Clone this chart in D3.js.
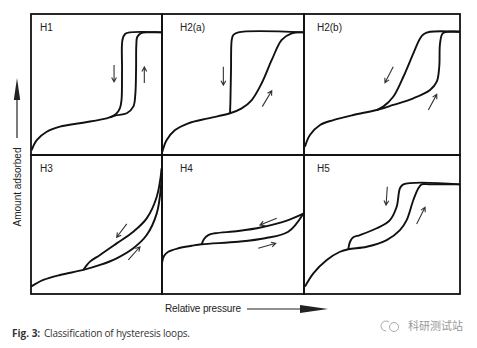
<!DOCTYPE html>
<html>
<head>
<meta charset="utf-8">
<script src="https://cdnjs.cloudflare.com/ajax/libs/d3/7.8.5/d3.min.js"></script>
<style>
body { margin: 0; background: #fff; }
svg { display: block; font-family: "Liberation Sans", Arial, sans-serif; }
</style>
</head>
<body>
<div id="chart"></div>
<script>
// Panel titles in reading order
var panelNames = ['H1', 'H2(a)', 'H2(b)', 'H3', 'H4', 'H5'];

// Branches as [relative pressure, amount adsorbed], both 0..1 inside a panel
var h1Ads = [[0.005,0.035],[0.044,0.106],[0.12,0.165],[0.221,0.201],[0.397,0.229],[0.578,0.26],[0.641,0.279],
             [0.731,0.296],[0.781,0.343],[0.796,0.426],[0.802,0.603],[0.804,0.78],[0.811,0.837],[0.84,0.865],[0.908,0.87],[1,0.87]];
var h1Des = [[1,0.87],[0.756,0.87],[0.718,0.858],[0.698,0.816],[0.695,0.603],[0.691,0.39],[0.679,0.333],[0.649,0.291],[0.603,0.267]];

var h2aAds = [[0.002,0.023],[0.033,0.106],[0.092,0.177],[0.185,0.225],[0.326,0.26],[0.479,0.296],[0.561,0.331],
              [0.632,0.39],[0.702,0.509],[0.773,0.674],[0.843,0.816],[0.913,0.863],[1,0.87]];
var h2aDes = [[1,0.87],[0.537,0.87],[0.502,0.851],[0.491,0.816],[0.486,0.603],[0.482,0.39],[0.479,0.296]];

var h2bAds = [[0.006,0.059],[0.038,0.142],[0.103,0.213],[0.188,0.248],[0.316,0.284],[0.466,0.319],[0.572,0.355],
              [0.701,0.402],[0.808,0.461],[0.851,0.52],[0.867,0.626],[0.872,0.792],[0.889,0.863],[0.925,0.874],[1,0.874]];
var h2bDes = [[1,0.874],[0.808,0.874],[0.769,0.858],[0.744,0.827],[0.701,0.721],[0.637,0.555],[0.572,0.413],[0.508,0.343],[0.466,0.319]];

var h3Ads = [[0,0.053],[0.094,0.101],[0.221,0.137],[0.399,0.173],[0.527,0.209],[0.654,0.257],[0.781,0.329],
             [0.883,0.424],[0.96,0.58],[0.992,0.772],[0.998,0.904]];
var h3Des = [[0.998,0.904],[0.96,0.7],[0.883,0.544],[0.781,0.448],[0.654,0.364],[0.527,0.281],[0.45,0.233],[0.42,0.201],[0.399,0.173]];

var h4Ads = [[0.002,0.232],[0.014,0.273],[0.044,0.304],[0.115,0.329],[0.209,0.347],[0.28,0.358],[0.537,0.376],
             [0.725,0.401],[0.889,0.448],[0.995,0.578]];
var h4Des = [[0.995,0.578],[0.889,0.532],[0.702,0.48],[0.537,0.453],[0.373,0.437],[0.326,0.424],[0.296,0.396],[0.28,0.358]];

var h5Ads = [[0.006,0.053],[0.06,0.149],[0.146,0.245],[0.231,0.304],[0.284,0.322],[0.402,0.34],[0.53,0.388],
             [0.615,0.46],[0.658,0.532],[0.701,0.676],[0.733,0.76],[0.754,0.789],[0.808,0.789],[1,0.789]];
var h5Des = [[1,0.789],[0.637,0.789],[0.615,0.76],[0.594,0.628],[0.551,0.532],[0.466,0.473],[0.359,0.424],
             [0.316,0.408],[0.295,0.376],[0.284,0.322]];

// Direction arrows: [from, to] in the same units
var h1Arrows = [[[0.634,0.638],[0.634,0.518]], [[0.865,0.511],[0.865,0.624]]];
var h2aArrows = [[[0.432,0.626],[0.432,0.496]], [[0.706,0.343],[0.773,0.456]]];
var h2bArrows = [[[0.572,0.626],[0.519,0.513]], [[0.797,0.319],[0.851,0.43]]];
var h3Arrows = [[[0.731,0.504],[0.654,0.408]], [[0.743,0.245],[0.832,0.34]]];
var h4Arrows = [[[0.808,0.545],[0.69,0.496]], [[0.678,0.329],[0.801,0.365]]];
var h5Arrows = [[[0.534,0.772],[0.526,0.64]], [[0.722,0.504],[0.776,0.624]]];

var branches = [[h1Ads, h1Des], [h2aAds, h2aDes], [h2bAds, h2bDes], [h3Ads, h3Des], [h4Ads, h4Des], [h5Ads, h5Des]];
var arrows = [h1Arrows, h2aArrows, h2bArrows, h3Arrows, h4Arrows, h5Arrows];

var yLabel = 'Amount adsorbed';
var xLabel = 'Relative pressure';
var captionBold = 'Fig. 3:';
var captionText = 'Classification of hysteresis loops.';
var watermark = '科研测试站';

// Grid layout
var width = 477, height = 348;
var colEdges = [31, 162, 304, 460];
var rowEdges = [14, 155, 294];
var labelDx = [9, 18, 13];

var svg = d3.select('#chart').append('svg')
    .attr('width', width)
    .attr('height', height);

svg.append('rect').attr('width', width).attr('height', height).attr('fill', '#fff');

function drawPanel(i) {
    var c = i % 3, r = Math.floor(i / 3);
    var x = d3.scaleLinear().domain([0, 1]).range([colEdges[c], colEdges[c + 1]]);
    var y = d3.scaleLinear().domain([0, 1]).range([rowEdges[r + 1], rowEdges[r]]);

    var g = svg.append('g').attr('class', 'panel');

    var line = d3.line()
        .curve(d3.curveCatmullRom.alpha(0.5))
        .x(function(d) { return x(d[0]); })
        .y(function(d) { return y(d[1]); });

    g.selectAll('path.branch').data(branches[i]).enter().append('path')
        .attr('class', 'branch')
        .attr('d', function(d) { return line(d); })
        .attr('fill', 'none')
        .attr('stroke', '#111')
        .attr('stroke-width', 1.9)
        .attr('stroke-linejoin', 'round');

    // arrows with open heads
    g.selectAll('path.arrow').data(arrows[i]).enter().append('path')
        .attr('class', 'arrow')
        .attr('d', function(d) {
            var x1 = x(d[0][0]), y1 = y(d[0][1]), x2 = x(d[1][0]), y2 = y(d[1][1]);
            var a = Math.atan2(y2 - y1, x2 - x1), len = 5, spread = 0.5;
            var hx1 = x2 - len * Math.cos(a - spread), hy1 = y2 - len * Math.sin(a - spread);
            var hx2 = x2 - len * Math.cos(a + spread), hy2 = y2 - len * Math.sin(a + spread);
            return 'M' + x1 + ',' + y1 + 'L' + x2 + ',' + y2 +
                   'M' + hx1 + ',' + hy1 + 'L' + x2 + ',' + y2 + 'L' + hx2 + ',' + hy2;
        })
        .attr('fill', 'none')
        .attr('stroke', '#333')
        .attr('stroke-width', 1.1);

    g.append('text')
        .attr('x', colEdges[c] + labelDx[c])
        .attr('y', rowEdges[r] + 17)
        .attr('font-size', 10)
        .attr('fill', '#222')
        .text(panelNames[i]);

    g.append('rect')
        .attr('x', colEdges[c]).attr('y', rowEdges[r])
        .attr('width', colEdges[c + 1] - colEdges[c])
        .attr('height', rowEdges[r + 1] - rowEdges[r])
        .attr('fill', 'none')
        .attr('stroke', '#111')
        .attr('stroke-width', 1.8);
}

panelNames.forEach(function(d, i) { drawPanel(i); });

// Axis titles with their big arrows
svg.append('line').attr('x1', 17).attr('y1', 138).attr('x2', 17).attr('y2', 96)
    .attr('stroke', '#222').attr('stroke-width', 1.2);
svg.append('path').attr('d', 'M17,78L13.8,100L20.2,100Z').attr('fill', '#222');
svg.append('text')
    .attr('transform', 'translate(21,187) rotate(-90)')
    .attr('text-anchor', 'middle')
    .attr('font-size', 10)
    .attr('fill', '#222')
    .text(yLabel);

svg.append('text')
    .attr('x', 165).attr('y', 312)
    .attr('font-size', 10)
    .attr('textLength', 76)
    .attr('fill', '#222')
    .text(xLabel);
svg.append('line').attr('x1', 247).attr('y1', 309).attr('x2', 305).attr('y2', 309)
    .attr('stroke', '#222').attr('stroke-width', 1.2);
svg.append('path').attr('d', 'M328,309L300,305L300,313Z').attr('fill', '#222');

// Caption
var cap = svg.append('text').attr('x', 12).attr('y', 337).attr('font-size', 10)
    .attr('font-family', '"Open Sans", sans-serif').attr('fill', '#333');
cap.append('tspan').attr('font-weight', 'bold').text(captionBold);
cap.append('tspan').attr('x', 44).attr('textLength', 146).text(captionText);

// Watermark
var wm = svg.append('g').attr('fill', 'none').attr('stroke', '#aaa').attr('stroke-width', 1);
wm.append('path').attr('d', 'M389,322 A5,5 0 1,0 386,331');
wm.append('circle').attr('cx', 394).attr('cy', 327).attr('r', 4.5);
svg.append('text')
    .attr('x', 408).attr('y', 330)
    .attr('font-size', 11)
    .attr('font-family', '"Noto Sans CJK SC", sans-serif')
    .attr('fill', '#999')
    .text(watermark);
</script>
</body>
</html>
